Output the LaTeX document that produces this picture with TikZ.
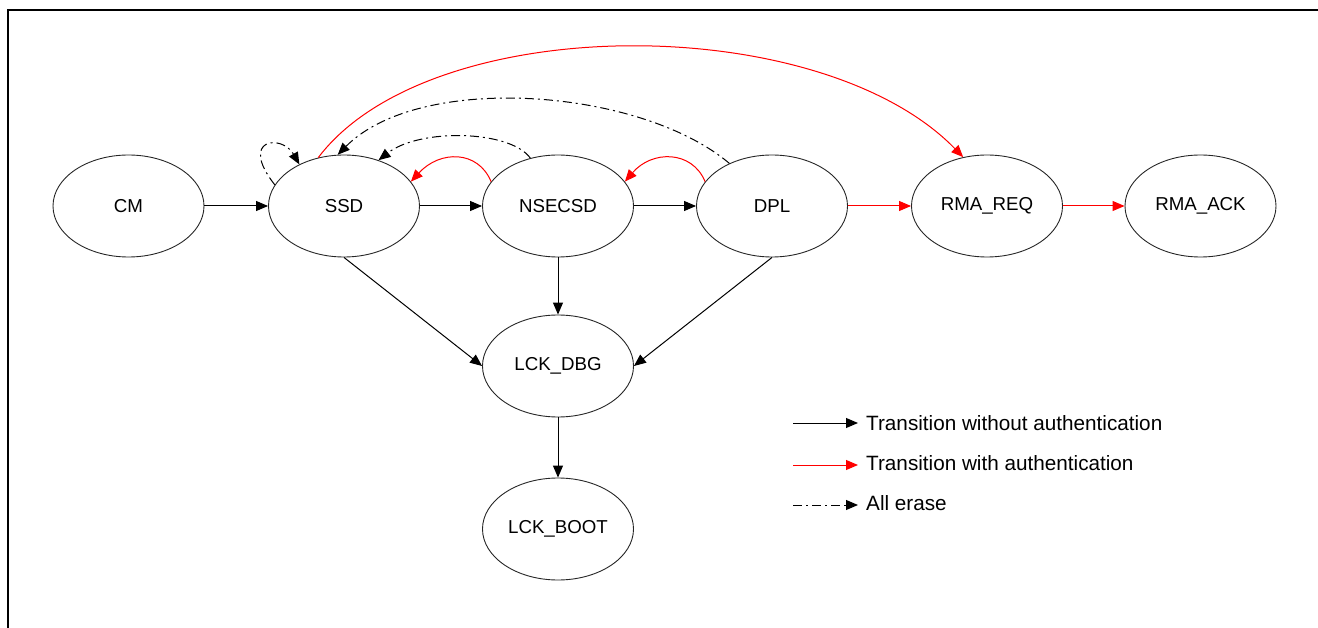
\documentclass[tikz,border=0pt]{standalone}
\usepackage{fontspec}
\setmainfont{Liberation Sans}
\usetikzlibrary{shapes.geometric,arrows.meta}
\begin{document}
\begin{tikzpicture}[x=1pt,y=-1pt,
  state/.style={draw=black!85, line width=0.9pt, ellipse, minimum width=151pt, minimum height=102pt, inner sep=0pt, font=\fontsize{18.7}{22}\selectfont},
  plain/.style={draw=black, line width=1pt, -{Triangle[length=12pt,width=10pt]}},
  auth/.style={draw=red, line width=1pt, -{Triangle[length=12pt,width=10pt]}, red},
  erase/.style={draw=black, line width=1pt, dash pattern=on 9pt off 4pt on 2pt off 4pt, -{Triangle[length=12pt,width=10pt]}},
  legtext/.style={anchor=west, inner sep=0pt, font=\fontsize{20.7}{24}\selectfont}
]
\useasboundingbox (0,0) rectangle (1318,628);
\draw[line width=2.2pt] (8,640) -- (8,10) -- (1330,10);

\node[state] (cm) at (128.5,206) {CM};
\node[state] (ssd) at (344,206) {SSD};
\node[state] (nsecsd) at (558,206) {NSECSD};
\node[state] (dpl) at (772,206) {DPL};
\node[state] (rmareq) at (987,206) {RMA\_REQ};
\node[state] (rmaack) at (1200.5,206) {RMA\_ACK};
\node[state] (lckdbg) at (558,366) {LCK\_DBG};
\node[state] (lckboot) at (558,529) {LCK\_BOOT};

% black transitions
\draw[plain] (cm.east) -- (ssd.west);
\draw[plain] (ssd.east) -- (nsecsd.west);
\draw[plain] (nsecsd.east) -- (dpl.west);
\draw[plain] (ssd.south) -- (lckdbg.west);
\draw[plain] (nsecsd.south) -- (lckdbg.north);
\draw[plain] (dpl.south) -- (lckdbg.east);
\draw[plain] (lckdbg.south) -- (lckboot.north);

% red transitions
\draw[auth] (dpl.east) -- (rmareq.west);
\draw[auth] (rmareq.east) -- (rmaack.west);
\draw[auth] (nsecsd.160) .. controls (478,150) and (440,150) .. (ssd.20);
\draw[auth] (dpl.160) .. controls (692,150) and (652,150) .. (nsecsd.20);
\draw[auth] (ssd.118) .. controls (430,10) and (820,10) .. (rmareq.116);

% all erase
\draw[erase] (ssd.163) .. controls (238,138) and (282,134) .. (ssd.137);
\draw[erase] (nsecsd.120) .. controls (510,130) and (420,128) .. (ssd.53);
\draw[erase] (dpl.135) .. controls (640,88) and (420,72) .. (ssd.97);

% legend
\coordinate (l1a) at (793,423); \coordinate (l1b) at (858,423);
\coordinate (l2a) at (793,465); \coordinate (l2b) at (858,465);
\coordinate (l3a) at (793,505); \coordinate (l3b) at (858,505);
\draw[plain] (l1a) -- (l1b);
\draw[auth] (l2a) -- (l2b);
\draw[erase] (l3a) -- (l3b);
\node[legtext] (t1) at (866,423) {Transition without authentication};
\node[legtext] (t2) at (866,463) {Transition with authentication};
\node[legtext] (t3) at (866,503) {All erase};
\end{tikzpicture}
\end{document}
